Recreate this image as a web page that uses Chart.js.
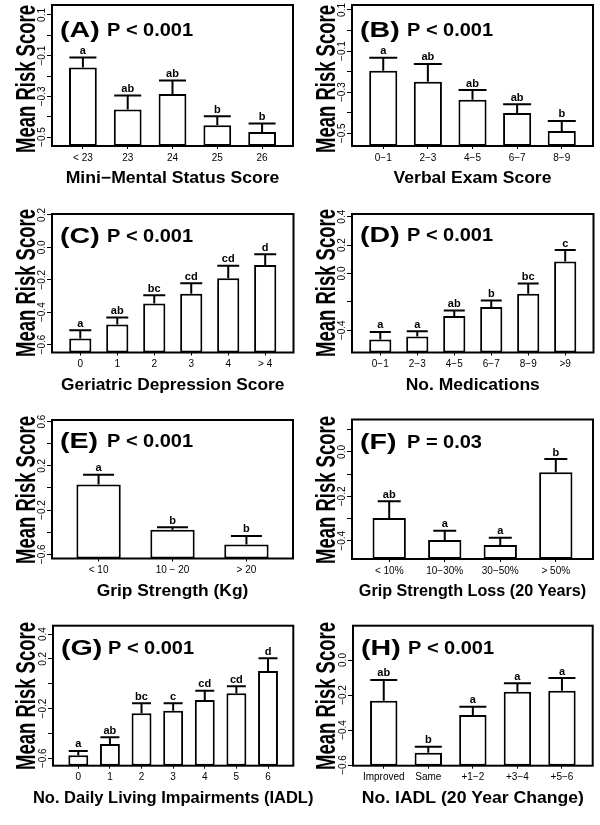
<!DOCTYPE html>
<html><head><meta charset="utf-8">
<script src="https://cdn.jsdelivr.net/npm/chart.js@4/dist/chart.umd.min.js"></script>
<style>
html,body{margin:0;padding:0;background:#fff;}
#wrap{position:relative;width:600px;height:825px;overflow:hidden;background:#fff;}
canvas{position:absolute;}
</style></head><body><div id="wrap"></div>
<script>
// ---------- DATA ----------
const aCats = ['< 23', '23', '24', '25', '26'];
const aMeans = [-0.158, -0.365, -0.288, -0.442, -0.475];
const aSE = [0.049, 0.069, 0.066, 0.044, 0.042];
const aLetters = ['a', 'ab', 'ab', 'b', 'b'];
const aYTicks = [0.1, 0, -0.1, -0.2, -0.3, -0.4, -0.5];
const aYLabels = ['0.1', '', '−0.1', '', '−0.3', '', '−0.5'];
const aXTitle = 'Mini−Mental Status Score';
const aP = 'P < 0.001';

const bCats = ['0−1', '2−3', '4−5', '6−7', '8−9'];
const bMeans = [-0.196, -0.250, -0.337, -0.401, -0.489];
const bSE = [0.063, 0.087, 0.047, 0.042, 0.049];
const bLetters = ['a', 'ab', 'ab', 'ab', 'b'];
const bYTicks = [0.1, 0, -0.1, -0.2, -0.3, -0.4, -0.5];
const bYLabels = ['0.1', '', '−0.1', '', '−0.3', '', '−0.5'];
const bXTitle = 'Verbal Exam Score';
const bP = 'P < 0.001';

const cCats = ['0', '1', '2', '3', '4', '> 4'];
const cMeans = [-0.563, -0.476, -0.346, -0.287, -0.190, -0.109];
const cSE = [0.052, 0.043, 0.051, 0.065, 0.076, 0.066];
const cLetters = ['a', 'ab', 'bc', 'cd', 'cd', 'd'];
const cYTicks = [0.2, 0, -0.2, -0.4, -0.6];
const cYLabels = ['0.2', '0.0', '−0.2', '−0.4', '−0.6'];
const cXTitle = 'Geriatric Depression Score';
const cP = 'P < 0.001';

const dCats = ['0−1', '2−3', '4−5', '6−7', '8−9', '>9'];
const dMeans = [-0.465, -0.444, -0.299, -0.237, -0.143, 0.085];
const dSE = [0.053, 0.037, 0.038, 0.047, 0.073, 0.080];
const dLetters = ['a', 'a', 'ab', 'b', 'bc', 'c'];
const dYTicks = [0.4, 0.2, 0, -0.2, -0.4];
const dYLabels = ['0.4', '0.2', '0.0', '', '−0.4'];
const dXTitle = 'No. Medications';
const dP = 'P < 0.001';

const eCats = ['< 10', '10 − 20', '> 20'];
const eMeans = [0.032, -0.379, -0.512];
const eSE = [0.088, 0.024, 0.078];
const eLetters = ['a', 'b', 'b'];
const eYTicks = [0.6, 0.4, 0.2, 0, -0.2, -0.4, -0.6];
const eYLabels = ['0.6', '', '0.2', '', '−0.2', '', '−0.6'];
const eXTitle = 'Grip Strength (Kg)';
const eP = 'P < 0.001';

const fCats = ['< 10%', '10−30%', '30−50%', '> 50%'];
const fMeans = [-0.297, -0.397, -0.419, -0.091];
const fSE = [0.075, 0.042, 0.033, 0.059];
const fLetters = ['ab', 'a', 'a', 'b'];
const fYTicks = [0.1, 0, -0.1, -0.2, -0.3, -0.4];
const fYLabels = ['', '0.0', '', '−0.2', '', '−0.4'];
const fXTitle = 'Grip Strength Loss (20 Years)';
const fP = 'P = 0.03';

const gCats = ['0', '1', '2', '3', '4', '5', '6'];
const gMeans = [-0.576, -0.485, -0.238, -0.217, -0.131, -0.077, 0.102];
const gSE = [0.035, 0.054, 0.080, 0.059, 0.075, 0.057, 0.103];
const gLetters = ['a', 'ab', 'bc', 'c', 'cd', 'cd', 'd'];
const gYTicks = [0.4, 0.2, 0, -0.2, -0.4, -0.6];
const gYLabels = ['0.4', '0.2', '', '−0.2', '', '−0.6'];
const gXTitle = 'No. Daily Living Impairments (IADL)';
const gP = 'P < 0.001';

const hCats = ['Improved', 'Same', '+1−2', '+3−4', '+5−6'];
const hMeans = [-0.233, -0.530, -0.314, -0.181, -0.175];
const hSE = [0.119, 0.035, 0.047, 0.048, 0.072];
const hLetters = ['ab', 'b', 'a', 'a', 'a'];
const hYTicks = [0, -0.2, -0.4, -0.6];
const hYLabels = ['0.0', '−0.2', '−0.4', '−0.6'];
const hXTitle = 'No. IADL (20 Year Change)';
const hP = 'P < 0.001';

const yTitle = 'Mean Risk Score';

// ---------- LAYOUT / STYLE ----------
const FONT = '"Liberation Sans", Arial, Helvetica, sans-serif';
Chart.defaults.font.family = FONT;
Chart.defaults.color = '#000';

const panels = [
  {tag:'(A)', p:aP, cats:aCats, means:aMeans, se:aSE, letters:aLetters, yTicks:aYTicks, yLabels:aYLabels, xTitle:aXTitle, xsx:1.066,
   ox:0, oy:0, w:300, h:200, L:52, T:5, R:293, B:146, yMin:-0.544, yMax:0.149, pad:0.69, frac:0.62, capW:27, tBase:37, yTitleY:79},
  {tag:'(B)', p:bP, cats:bCats, means:bMeans, se:bSE, letters:bLetters, yTicks:bYTicks, yLabels:bYLabels, xTitle:bXTitle, xsx:1.062,
   ox:300, oy:0, w:300, h:200, L:52, T:5, R:293, B:146, yMin:-0.562, yMax:0.124, pad:0.70, frac:0.63, capW:28, tBase:36.5, yTitleY:79},
  {tag:'(C)', p:cP, cats:cCats, means:cMeans, se:cSE, letters:cLetters, yTicks:cYTicks, yLabels:cYLabels, xTitle:cXTitle, xsx:1.05,
   ox:0, oy:200, w:300, h:210, L:52, T:14, R:293.5, B:152.5, yMin:-0.649, yMax:0.206, pad:0.765, frac:0.6, capW:22, tBase:42.5, yTitleY:83},
  {tag:'(D)', p:dP, cats:dCats, means:dMeans, se:dSE, letters:dLetters, yTicks:dYTicks, yLabels:dYLabels, xTitle:dXTitle, xsx:1.06,
   ox:300, oy:200, w:300, h:210, L:52, T:14, R:293.5, B:152.5, yMin:-0.557, yMax:0.419, pad:0.765, frac:0.6, capW:21, tBase:41.5, yTitleY:83},
  {tag:'(E)', p:eP, cats:eCats, means:eMeans, se:eSE, letters:eLetters, yTicks:eYTicks, yLabels:eYLabels, xTitle:eXTitle, xsx:1.054,
   ox:0, oy:410, w:300, h:205, L:52, T:10, R:293, B:148.5, yMin:-0.638, yMax:0.615, pad:0.63, frac:0.6, capW:31, tBase:37.5, yTitleY:80},
  {tag:'(F)', p:fP, cats:fCats, means:fMeans, se:fSE, letters:fLetters, yTicks:fYTicks, yLabels:fYLabels, xTitle:fXTitle, xsx:0.98,
   ox:300, oy:410, w:300, h:205, L:52, T:9.5, R:293, B:149, yMin:-0.482, yMax:0.146, pad:0.67, frac:0.6, capW:23, tBase:39, yTitleY:80},
  {tag:'(G)', p:gP, cats:gCats, means:gMeans, se:gSE, letters:gLetters, yTicks:gYTicks, yLabels:gYLabels, xTitle:gXTitle, xsx:1.0,
   ox:0, oy:615, w:330, h:210, L:53, T:10.7, R:293.3, B:150.7, yMin:-0.66, yMax:0.467, pad:0.8, frac:0.63, capW:19, tBase:40, yTitleY:81},
  {tag:'(H)', p:hP, cats:hCats, means:hMeans, se:hSE, letters:hLetters, yTicks:hYTicks, yLabels:hYLabels, xTitle:hXTitle, xsx:1.068,
   ox:300, oy:615, w:300, h:210, L:53, T:10.7, R:292.7, B:150.7, yMin:-0.604, yMax:0.196, pad:0.69, frac:0.615, capW:27, tBase:40, yTitleY:81}
];

function drawText(ctx, text, x, y, font, sx, sy, rot, align) {
  ctx.save();
  ctx.translate(x, y);
  if (rot) ctx.rotate(rot);
  ctx.scale(sx, sy);
  ctx.font = font;
  ctx.textAlign = align;
  ctx.textBaseline = 'alphabetic';
  ctx.fillStyle = '#000';
  ctx.fillText(text, 0, 0);
  ctx.restore();
}

const decor = {
  id: 'decor',
  afterDatasetsDraw(chart, args, opts) {
    const pn = opts.panel;
    const ctx = chart.ctx;
    const xs = chart.scales.x, ys = chart.scales.y;
    const ca = chart.chartArea;
    ctx.save();
    ctx.strokeStyle = '#000';
    ctx.lineWidth = 2;
    ctx.lineCap = 'butt';
    // error bars + letters
    pn.means.forEach((m, i) => {
      const cx = xs.getPixelForValue(i);
      const y0 = ys.getPixelForValue(m);
      const y1 = ys.getPixelForValue(m + pn.se[i]);
      ctx.beginPath();
      ctx.moveTo(cx, y0); ctx.lineTo(cx, y1);
      ctx.moveTo(cx - pn.capW / 2, y1); ctx.lineTo(cx + pn.capW / 2, y1);
      ctx.stroke();
      drawText(ctx, pn.letters[i], cx, y1 - 3.5, 'bold 11px ' + FONT, 1, 1, 0, 'center');
    });
    // box
    ctx.strokeRect(ca.left, ca.top, ca.right - ca.left, ca.bottom - ca.top);
    // y tick labels (vertical, like R)
    pn.yTicks.forEach((v, i) => {
      const lab = pn.yLabels[i];
      if (!lab) return;
      drawText(ctx, lab, ca.left - 7, ys.getPixelForValue(v), '10px ' + FONT, 1, 1, -Math.PI / 2, 'center');
    });
    // y title
    drawText(ctx, yTitle, 35.3, pn.yTitleY, 'bold 18.5px ' + FONT, 1, 1.5, -Math.PI / 2, 'center');
    // x title
    drawText(ctx, pn.xTitle, (ca.left + ca.right) / 2, ca.bottom + 37, 'bold 16.5px ' + FONT, pn.xsx, 1, 0, 'center');
    // panel tag and P value
    drawText(ctx, pn.tag, ca.left + 8, pn.tBase, 'bold 22px ' + FONT, 1.3, 1, 0, 'left');
    drawText(ctx, pn.p, ca.left + 55, pn.tBase - 1, 'bold 18px ' + FONT, 1.11, 1, 0, 'left');
    ctx.restore();
  }
};

const wrap = document.getElementById('wrap');
panels.forEach((pn) => {
  const cv = document.createElement('canvas');
  cv.width = pn.w; cv.height = pn.h;
  cv.style.left = pn.ox + 'px'; cv.style.top = pn.oy + 'px';
  cv.style.width = pn.w + 'px'; cv.style.height = pn.h + 'px';
  wrap.appendChild(cv);
  const n = pn.cats.length;
  new Chart(cv, {
    type: 'bar',
    data: {
      datasets: [{
        data: pn.means.map((m, i) => ({x: i, y: m})),
        base: pn.yMin,
        backgroundColor: '#ffffff',
        borderColor: '#000000',
        borderWidth: 2,
        borderSkipped: false,
        barPercentage: pn.frac,
        categoryPercentage: 1
      }]
    },
    options: {
      responsive: false,
      animation: false,
      devicePixelRatio: 1,
      layout: {padding: {left: 0, top: pn.T, right: pn.w - pn.R, bottom: 0}},
      plugins: {legend: {display: false}, tooltip: {enabled: false}, decor: {panel: pn}},
      scales: {
        x: {
          type: 'linear', min: -pn.pad, max: n - 1 + pn.pad, offset: false,
          afterBuildTicks: (s) => { s.ticks = pn.cats.map((c, i) => ({value: i})); },
          afterFit: (s) => { s.height = pn.h - pn.B; },
          ticks: {callback: (v) => (pn.cats[v] !== undefined ? pn.cats[v] : ''), font: {size: 10}, color: '#000', padding: 3, maxRotation: 0, minRotation: 0, autoSkip: false},
          grid: {offset: false, drawOnChartArea: false, drawTicks: true, tickLength: 3, color: '#000', lineWidth: 1},
          border: {display: false}
        },
        y: {
          type: 'linear', min: pn.yMin, max: pn.yMax,
          afterBuildTicks: (s) => { s.ticks = pn.yTicks.map((v) => ({value: v})); },
          afterFit: (s) => { s.width = pn.L; },
          ticks: {display: false},
          grid: {drawOnChartArea: false, drawTicks: true, tickLength: 5, color: '#000', lineWidth: 1},
          border: {display: false}
        }
      }
    },
    plugins: [decor]
  });
});
</script></body></html>
